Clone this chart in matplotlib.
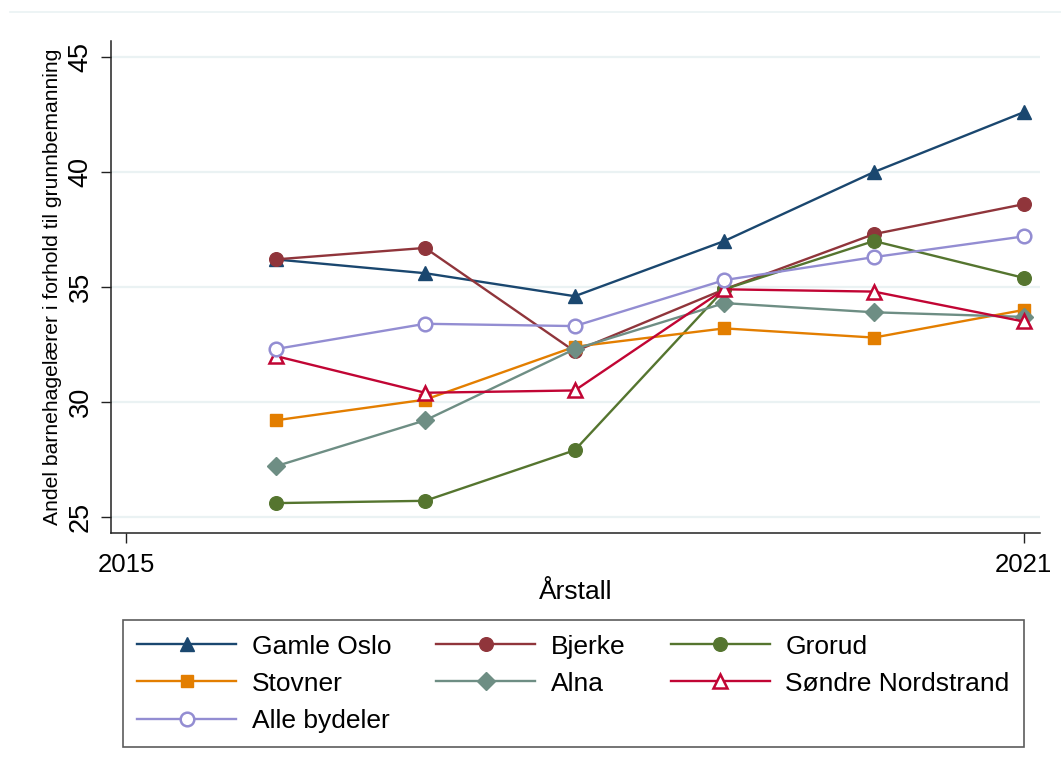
import matplotlib
matplotlib.use("Agg")
import matplotlib.pyplot as plt
from matplotlib.lines import Line2D

plt.rcParams['font.family'] = ['Liberation Sans', 'DejaVu Sans']

years = [2016, 2017, 2018, 2019, 2020, 2021]
gamle_oslo = [36.2, 35.6, 34.6, 37.0, 40.0, 42.6]
bjerke = [36.2, 36.7, 32.2, 34.9, 37.3, 38.6]
grorud = [25.6, 25.7, 27.9, 34.9, 37.0, 35.4]
stovner = [29.2, 30.1, 32.4, 33.2, 32.8, 34.0]
alna = [27.2, 29.2, 32.3, 34.3, 33.9, 33.7]
sondre = [32.0, 30.4, 30.5, 34.9, 34.8, 33.5]
alle = [32.3, 33.4, 33.3, 35.3, 36.3, 37.2]

xticks = [2015, 2021]
yticks = [25, 30, 35, 40, 45]

series = [
    ("Gamle Oslo", gamle_oslo, '#1a476f', '^', True),
    ("Bjerke", bjerke, '#90353b', 'o', True),
    ("Grorud", grorud, '#55752f', 'o', True),
    ("Stovner", stovner, '#e37e00', 's', True),
    ("Alna", alna, '#6e8e84', 'D', True),
    ("Søndre Nordstrand", sondre, '#c10534', '^', False),
    ("Alle bydeler", alle, '#938dd2', 'o', False),
]

fig = plt.figure(figsize=(10.61, 7.74), dpi=100)
ax = fig.add_axes([111/1061, 1-533/774, (1040-111)/1061, (533-41)/774])

for yv in yticks:
    ax.axhline(yv, color='#eaf2f3', lw=1.6, zorder=0)

handles = {}
for name, vals, col, mk, filled in series:
    ms = 9.8
    if mk in ('s', 'D'):
        ms = 9.0
    if filled:
        h, = ax.plot(years, vals, color=col, lw=1.7, marker=mk, ms=ms,
                     mfc=col, mec=col, label=name, zorder=3)
    else:
        h, = ax.plot(years, vals, color=col, lw=1.7, marker=mk, ms=ms,
                     mfc='white', mec=col, mew=1.8, label=name, zorder=3)
    handles[name] = h

ax.set_xlim(2014.9, 2021.11)
ax.set_ylim(24.3, 45.7)
ax.set_xticks(xticks)
ax.set_yticks(yticks)
ax.tick_params(axis='both', direction='out', length=7.5, width=1.0,
               color='#222222')
ax.tick_params(axis='x', labelsize=18.5, pad=7)
ax.tick_params(axis='y', labelsize=19.5, pad=5)
for lbl in ax.get_yticklabels():
    lbl.set_rotation(90)
    lbl.set_va('center')
for s in ['top', 'right']:
    ax.spines[s].set_visible(False)
for s in ['left', 'bottom']:
    ax.spines[s].set_linewidth(1.1)
    ax.spines[s].set_color('#222222')

ax.set_xlabel("Årstall", fontsize=19, labelpad=2)
ax.set_ylabel("Andel barnehagelærer i forhold til grunnbemanning", fontsize=15.2, labelpad=4)

order = ["Gamle Oslo", "Stovner", "Alle bydeler", "Bjerke", "Alna", "Grorud", "Søndre Nordstrand"]
leg = fig.legend([handles[n] for n in order], order, loc='upper center',
                 bbox_to_anchor=(573.5/1061, 1-620/774), ncol=3, fontsize=19,
                 frameon=True, fancybox=False, edgecolor='#333333',
                 handlelength=3.75, handletextpad=0.6, columnspacing=1.7,
                 labelspacing=0.5, borderpad=0.55, numpoints=1, borderaxespad=0)
leg.get_frame().set_linewidth(1.2)

fig.add_artist(Line2D([10/1061, 1.0], [1-12/774, 1-12/774], color='#eaf2f3', lw=1.2))

fig.savefig("out.png", dpi=100)
